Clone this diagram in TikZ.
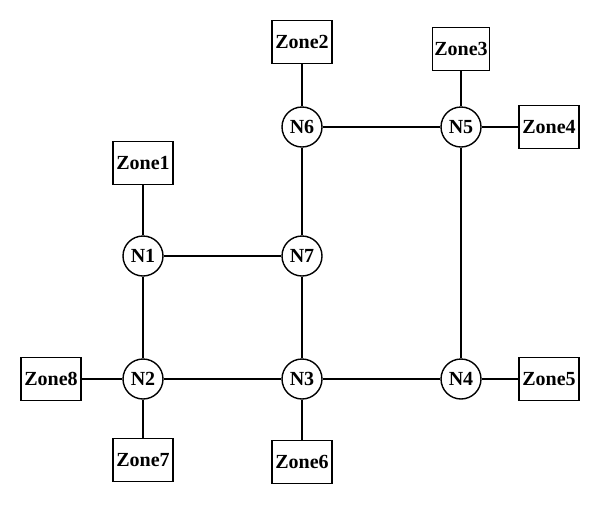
\documentclass[tikz,border=0pt]{standalone}
\usepackage{tikz}
\usepackage{fontspec}
\setmainfont{Liberation Serif}
\usetikzlibrary{positioning}

\begin{document}
\begin{tikzpicture}[x=0.5pt,y=-0.5pt,
  hub/.style={circle,draw=black,line width=0.7pt,minimum size=20pt,inner sep=0pt,font=\bfseries\fontsize{10}{11}\selectfont},
  zone/.style={rectangle,draw=black,line width=0.7pt,minimum width=30pt,minimum height=21.5pt,inner sep=1pt,font=\bfseries\fontsize{10}{11}\selectfont},
  link/.style={line width=1.3pt}]
\useasboundingbox (0,0) rectangle (600,505);
% hubs
\node at (143,256)[hub](N1){N1};
\node at (143,379)[hub](N2){N2};
\node at (302,379)[hub](N3){N3};
\node at (461,379)[hub](N4){N4};
\node at (461,127)[hub](N5){N5};
\node at (302,127)[hub](N6){N6};
\node at (302,256)[hub](N7){N7};
% zones
\node at (143,163)[zone](Z1){Zone1};
\node at (302,42)[zone](Z2){Zone2};
\node at (461,49)[zone,minimum width=27.5pt](Z3){Zone3};
\node at (549,127)[zone](Z4){Zone4};
\node at (549,379)[zone](Z5){Zone5};
\node at (302,462)[zone](Z6){Zone6};
\node at (143,460)[zone](Z7){Zone7};
\node at (51,379)[zone](Z8){Zone8};
% links
\draw[link] (N1)--(N7);
\draw[link] (N1)--(N2);
\draw[link] (N2)--(N3);
\draw[link] (N3)--(N4);
\draw[link] (N3)--(N7);
\draw[link] (N7)--(N6);
\draw[link] (N6)--(N5);
\draw[link] (N5)--(N4);
\draw[link] (Z1)--(N1);
\draw[link] (Z2)--(N6);
\draw[link] (Z3)--(N5);
\draw[link] (N5)--(Z4);
\draw[link] (N4)--(Z5);
\draw[link] (N3)--(Z6);
\draw[link] (N2)--(Z7);
\draw[link] (Z8)--(N2);
\end{tikzpicture}
\end{document}
